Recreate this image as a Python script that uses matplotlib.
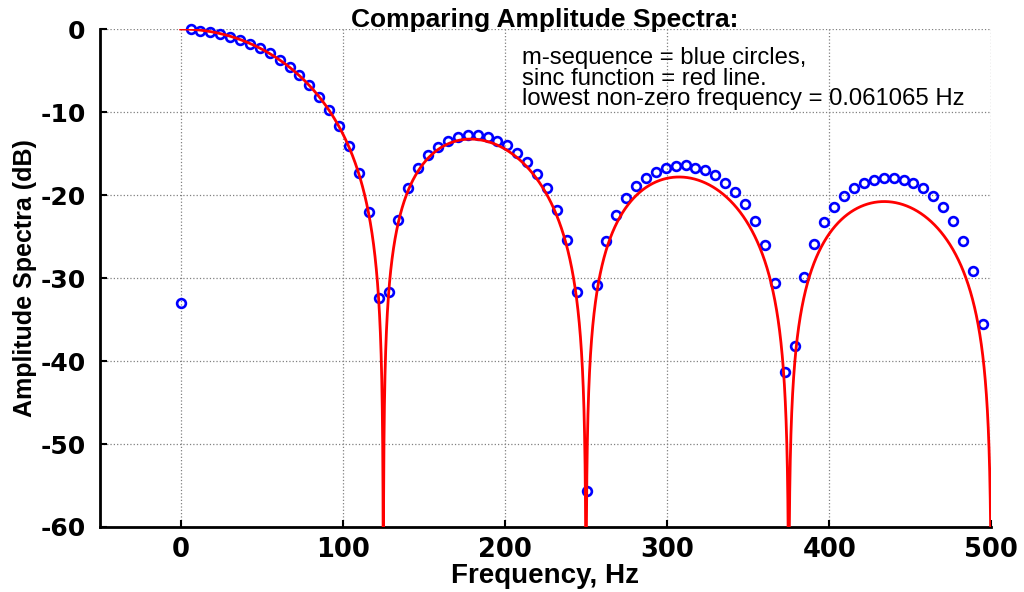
import numpy as np
import matplotlib.pyplot as plt

# m-sequence spectrum (frequency bins in Hz, amplitude in dB)
freq_hz = [0.0, 6.1, 12.2, 18.3, 24.4, 30.5, 36.6, 42.7, 48.9, 55.0,
           61.1, 67.2, 73.3, 79.4, 85.5, 91.6, 97.7, 103.8, 109.9, 116.0,
           122.1, 128.2, 134.3, 140.4, 146.6, 152.7, 158.8, 164.9, 171.0, 177.1,
           183.2, 189.3, 195.4, 201.5, 207.6, 213.7, 219.8, 225.9, 232.0, 238.2,
           244.3, 250.4, 256.5, 262.6, 268.7, 274.8, 280.9, 287.0, 293.1, 299.2,
           305.3, 311.4, 317.5, 323.6, 329.8, 335.9, 342.0, 348.1, 354.2, 360.3,
           366.4, 372.5, 378.6, 384.7, 390.8, 396.9, 403.0, 409.1, 415.2, 421.3,
           427.5, 433.6, 439.7, 445.8, 451.9, 458.0, 464.1, 470.2, 476.3, 482.4,
           488.5, 494.6]
mseq_db = [-33.0, 0.0, -0.2, -0.4, -0.6, -1.0, -1.3, -1.8, -2.3, -2.9,
           -3.7, -4.6, -5.6, -6.8, -8.2, -9.7, -11.7, -14.1, -17.3, -22.1,
           -32.4, -31.7, -23.0, -19.1, -16.8, -15.2, -14.2, -13.5, -13.0, -12.8,
           -12.8, -13.0, -13.5, -14.0, -14.9, -16.0, -17.5, -19.2, -21.8, -25.4,
           -31.7, -55.7, -30.9, -25.5, -22.4, -20.4, -18.9, -17.9, -17.2, -16.8,
           -16.5, -16.4, -16.7, -17.0, -17.6, -18.5, -19.6, -21.1, -23.1, -26.0,
           -30.6, -41.3, -38.2, -29.9, -25.9, -23.2, -21.4, -20.1, -19.2, -18.5,
           -18.2, -18.0, -18.0, -18.2, -18.5, -19.2, -20.1, -21.4, -23.1, -25.5,
           -29.1, -35.6]

# sinc reference: nulls every 125 Hz (chip rate), drawn 0..500 Hz
chip_rate = 125.0
f_max = 500.0

xticks = [0, 100, 200, 300, 400, 500]
yticks = [0, -10, -20, -30, -40, -50, -60]

fig = plt.figure(figsize=(10.24, 5.92), dpi=100)
ax = fig.add_axes([0.0972, 0.1098, 0.8710, 0.8412])

f = np.linspace(0, f_max, 50001)
sinc_db = 20 * np.log10(np.maximum(np.abs(np.sinc(f / chip_rate)), 1e-12))

ax.plot(freq_hz, mseq_db, 'o', mfc='none', mec='#0000ff', ms=6.3, mew=1.9,
        clip_on=False, zorder=3)
ax.plot(f, sinc_db, color='#ff0000', lw=2.0, zorder=4)

ax.set_xlim(-50, 500)
ax.set_ylim(-60, 0)
ax.set_xticks(xticks)
ax.set_yticks(yticks)

font = 'Liberation Sans'
tick_font = 'DejaVu Sans'
ax.set_xticklabels([str(t) for t in xticks], fontsize=18.5, fontweight='bold', family=tick_font)
ax.set_yticklabels([str(t) for t in yticks], fontsize=18, fontweight='bold', family=tick_font)
ax.tick_params(direction='in', length=5, width=1.5, pad=7)
ax.tick_params(axis='y', pad=10)

for side in ['top', 'right']:
    ax.spines[side].set_visible(False)
for side in ['left', 'bottom']:
    ax.spines[side].set_linewidth(2.0)

ax.grid(True, linestyle=':', color='0.5', linewidth=0.9)
ax.set_axisbelow(True)

ax.set_xlabel('Frequency, Hz', fontsize=20, fontweight='bold', family=font, labelpad=0)
ax.set_ylabel('Amplitude Spectra (dB)', fontsize=18, fontweight='bold', family=font)
ax.yaxis.set_label_coords(-0.07, 0.5)

fig.text(0.532, 1 - 27 / 592, 'Comparing Amplitude Spectra:', fontsize=19,
         fontweight='bold', family=font, ha='center', va='baseline')
fig.text(522 / 1024, 1 - 47 / 592,
         'm-sequence = blue circles,\nsinc function = red line.\n'
         'lowest non-zero frequency = 0.061065 Hz',
         fontsize=17.2, family=font, ha='left', va='top', linespacing=0.92)

fig.savefig('out.png', dpi=100)
